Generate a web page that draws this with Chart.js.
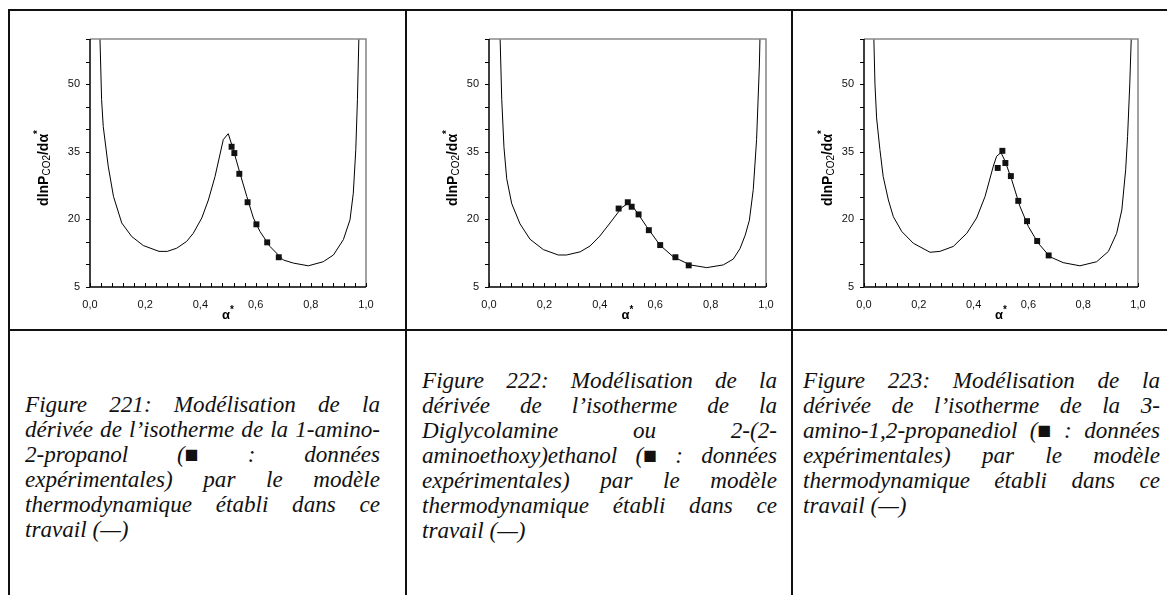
<!DOCTYPE html>
<html>
<head>
<meta charset="utf-8">
<script src="https://cdn.jsdelivr.net/npm/chart.js@4.4.1/dist/chart.umd.min.js"></script>
<style>
html,body{margin:0;padding:0;background:#fff;}
body{width:1167px;height:595px;overflow:hidden;position:relative;}
.ln{position:absolute;background:#111;}
canvas{position:absolute;}
.cap{position:absolute;font-family:"Liberation Serif","Times New Roman",serif;font-style:italic;font-size:24px;line-height:25px;color:#111;}
.cap div{white-space:nowrap;}
.cap span{white-space:nowrap;}
</style>
</head>
<body>
<div class="ln" style="left:8px;top:9px;width:1159px;height:2px"></div>
<div class="ln" style="left:8px;top:329px;width:1159px;height:2px"></div>
<div class="ln" style="left:8px;top:9px;width:2px;height:586px"></div>
<div class="ln" style="left:405px;top:9px;width:2px;height:586px"></div>
<div class="ln" style="left:791px;top:9px;width:2px;height:586px"></div>

<canvas id="c1" width="386" height="305" style="left:10px;top:20px"></canvas>
<canvas id="c2" width="376" height="305" style="left:410px;top:20px"></canvas>
<canvas id="c3" width="371" height="305" style="left:796px;top:20px"></canvas>

<div class="cap" id="cap1" style="left:25px;top:392px"></div>
<div class="cap" id="cap2" style="left:422px;top:368px"></div>
<div class="cap" id="cap3" style="left:803px;top:368px"></div>

<script>
// ---------- data ----------
const xTickValues = [0, 0.2, 0.4, 0.6, 0.8, 1.0];
const yTickValues = [5, 20, 35, 50];

// Figure 221 : 1-amino-2-propanol
const model1X = [0.034,0.042,0.048,0.066,0.085,0.115,0.151,0.193,0.250,0.280,0.314,0.350,0.374,0.405,0.429,0.453,0.483,0.501,0.519,0.543,0.568,0.592,0.616,0.652,0.700,0.737,0.791,0.845,0.882,0.918,0.942,0.954,0.963,0.969,0.976];
const model1Y = [65,46.6,40.6,31.8,25.1,19.2,16.2,14.2,12.9,12.9,13.6,15.1,16.9,20.3,24.3,29.5,37.7,39.0,35.5,30.3,25.1,20.3,17.3,14.0,11.0,10.3,9.7,10.6,12.1,15.5,19.9,25.8,35.5,46.6,65];
const exp1X = [0.513,0.523,0.541,0.571,0.603,0.642,0.684];
const exp1Y = [36.1,34.7,30.1,23.8,18.9,14.9,11.6];

// Figure 222 : Diglycolamine
const model2X = [0.038,0.046,0.054,0.064,0.082,0.112,0.148,0.196,0.250,0.280,0.329,0.365,0.400,0.437,0.479,0.501,0.521,0.545,0.569,0.617,0.665,0.726,0.786,0.846,0.882,0.906,0.925,0.940,0.954,0.966,0.976,0.980];
const model2Y = [65,46.6,36,29,23.5,19.0,15.6,13.3,12.1,12.1,12.8,14.1,16.3,19.2,22.6,23.5,22.7,20.6,18.4,14.3,11.7,9.9,9.3,9.9,11.2,13.5,16.5,19.8,26.6,37.7,54,65];
const exp2X = [0.468,0.501,0.515,0.540,0.577,0.618,0.673,0.721];
const exp2Y = [22.4,23.8,22.8,21.1,17.6,14.3,11.6,9.8];

// Figure 223 : 3-amino-1,2-propanediol
const model3X = [0.034,0.040,0.046,0.058,0.070,0.089,0.107,0.138,0.180,0.241,0.277,0.326,0.375,0.411,0.442,0.472,0.484,0.500,0.515,0.539,0.569,0.600,0.636,0.679,0.727,0.788,0.849,0.892,0.922,0.941,0.955,0.962,0.970,0.978];
const model3Y = [65,50,42.5,35.5,29.5,24.3,20.6,17.3,14.7,12.7,12.9,14.0,16.9,20.3,25.1,31.8,34.0,34.8,32.9,28.8,22.9,18.4,14.7,11.7,10.4,9.7,10.6,12.9,16.9,22.1,31.0,38.4,50,65];
const exp3X = [0.488,0.505,0.516,0.536,0.563,0.595,0.632,0.674];
const exp3Y = [31.4,35.2,32.5,29.6,24.1,19.6,15.2,12.0];

const caption1 = ["Figure 221: Modélisation de la","dérivée de l’isotherme de la 1-amino-","2-propanol (■ : données","expérimentales) par le modèle","thermodynamique établi dans ce","travail (—)"];
const caption2 = ["Figure 222: Modélisation de la","dérivée de l’isotherme de la","Diglycolamine ou 2-(2-","aminoethoxy)ethanol (■ : données","expérimentales) par le modèle","thermodynamique établi dans ce","travail (—)"];
const caption3 = ["Figure 223: Modélisation de la","dérivée de l’isotherme de la 3-","amino-1,2-propanediol (■ : données","expérimentales) par le modèle","thermodynamique établi dans ce","travail (—)"];

// ---------- captions: each line justified to the column width ----------
const capDefs = [
  {id: 'cap1', lines: caption1, w: 355},
  {id: 'cap2', lines: caption2, w: 355},
  {id: 'cap3', lines: caption3, w: 357}
];
let capFont = 24;
capDefs.forEach(c => {
  const el = document.getElementById(c.id);
  c.spans = c.lines.map(t => {
    const d = document.createElement('div');
    const s = document.createElement('span');
    s.textContent = t;
    d.appendChild(s); el.appendChild(d);
    return s;
  });
});
capDefs.forEach(c => {
  c.spans.slice(0, -1).forEach(s => {
    const w = s.getBoundingClientRect().width;
    if (w > c.w - 6) capFont = Math.min(capFont, 24 * (c.w - 6) / w);
  });
});
capDefs.forEach(c => {
  const el = document.getElementById(c.id);
  el.style.fontSize = capFont + 'px';
  c.spans.forEach((s, i) => {
    if (i === c.spans.length - 1) return;
    const gaps = (c.lines[i].match(/ /g) || []).length;
    const w = s.getBoundingClientRect().width;
    if (gaps > 0) s.style.wordSpacing = ((c.w - w) / gaps) + 'px';
  });
});

// ---------- chart decoration plugin ----------
const SANS = '"Liberation Sans", Arial, sans-serif';
const decor = {
  id: 'decor',
  afterDraw(chart, args, opts){
    const ctx = chart.ctx, a = chart.chartArea;
    const xs = chart.scales.x, ys = chart.scales.y;
    ctx.save();
    ctx.strokeStyle = '#8a8a8a'; ctx.lineWidth = 1.6;
    ctx.beginPath();
    ctx.moveTo(a.left, a.top); ctx.lineTo(a.right, a.top); ctx.lineTo(a.right, a.bottom);
    ctx.stroke();
    ctx.strokeStyle = '#000'; ctx.lineWidth = 1.5;
    ctx.beginPath();
    ctx.moveTo(a.left, a.top); ctx.lineTo(a.left, a.bottom); ctx.lineTo(a.right, a.bottom);
    ctx.stroke();
    ctx.lineWidth = 1;
    ctx.beginPath();
    for (let v = ys.min; v <= ys.max + 1e-9; v += 5) {
      const y = Math.round(ys.getPixelForValue(v)) + 0.5;
      ctx.moveTo(a.left - 4, y); ctx.lineTo(a.left, y);
    }
    for (let i = 0; i <= 25; i++) {
      const x = Math.round(xs.getPixelForValue(i * 0.04)) + 0.5;
      ctx.moveTo(x, a.bottom); ctx.lineTo(x, a.bottom - 4);
    }
    ctx.stroke();
    // y title
    ctx.fillStyle = '#000';
    ctx.translate(opts.yTitleX, (a.top + a.bottom) / 2 + opts.yTitleDy);
    ctx.rotate(-Math.PI / 2);
    const parts = [
      {t:'dlnP', f:'bold 14px ' + SANS, dy:0},
      {t:'CO2', f:'10px ' + SANS, dy:3},
      {t:'/dα', f:'bold 14px ' + SANS, dy:0},
      {t:'*', f:'bold 10px ' + SANS, dy:-6}
    ];
    let total = 0;
    parts.forEach(p => { ctx.font = p.f; p.w = ctx.measureText(p.t).width; total += p.w; });
    let cx = -total / 2;
    ctx.textBaseline = 'middle';
    parts.forEach(p => { ctx.font = p.f; ctx.fillText(p.t, cx, p.dy); cx += p.w; });
    ctx.restore();
    // x title
    ctx.save();
    ctx.fillStyle = '#000';
    ctx.textBaseline = 'middle';
    ctx.font = 'bold 13px ' + SANS;
    const wa = ctx.measureText('α').width;
    ctx.font = 'bold 10px ' + SANS;
    const ws = ctx.measureText('*').width;
    const x0 = (a.left + a.right) / 2 - (wa + ws) / 2;
    ctx.font = 'bold 13px ' + SANS;
    ctx.fillText('α', x0, opts.xTitleY);
    ctx.font = 'bold 10px ' + SANS;
    ctx.fillText('*', x0 + wa, opts.xTitleY - 5);
    ctx.restore();
  }
};

function pts(xs, ys){ return xs.map((x, i) => ({x: x, y: ys[i]})); }

function makeChart(id, mX, mY, eX, eY, g){
  return new Chart(document.getElementById(id), {
    type: 'scatter',
    data: {
      datasets: [
        {data: pts(mX, mY), showLine: true, borderColor: '#000', borderWidth: 1, pointRadius: 0, tension: 0, order: 2},
        {data: pts(eX, eY), pointStyle: 'rect', pointRadius: 4.2, backgroundColor: '#111', borderColor: '#111', pointBorderWidth: 0, order: 1}
      ]
    },
    options: {
      responsive: false, animation: false, devicePixelRatio: 1,
      layout: {padding: {left: 0, right: g.padR, top: g.padT, bottom: 0}},
      plugins: {legend: {display: false}, tooltip: {enabled: false}, decor: {yTitleX: g.yTitleX, yTitleDy: g.yTitleDy, xTitleY: g.xTitleY}},
      scales: {
        x: {
          type: 'linear', min: 0, max: 1,
          afterBuildTicks: s => { s.ticks = xTickValues.map(v => ({value: v})); },
          afterFit: s => { s.height = g.xH; },
          ticks: {autoSkip: false, maxRotation: 0, padding: 11, color: '#111', font: {family: SANS, size: 11},
                  callback: v => v.toFixed(1).replace('.', ',')},
          grid: {display: false, drawTicks: false}, border: {display: false}
        },
        y: {
          type: 'linear', min: 5, max: 60,
          afterBuildTicks: s => { s.ticks = yTickValues.map(v => ({value: v})); },
          afterFit: s => { s.width = g.yW; },
          ticks: {padding: 10, color: '#111', font: {family: SANS, size: 11}, callback: v => String(v)},
          grid: {display: false, drawTicks: false}, border: {display: false}
        }
      }
    },
    plugins: [decor]
  });
}

makeChart('c1', model1X, model1Y, exp1X, exp1Y, {yW: 80, padR: 30, padT: 19, xH: 38, yTitleX: 34, yTitleDy: 5, xTitleY: 295});
makeChart('c2', model2X, model2Y, exp2X, exp2Y, {yW: 79, padR: 20, padT: 19, xH: 38, yTitleX: 43, yTitleDy: 5, xTitleY: 295});
makeChart('c3', model3X, model3Y, exp3X, exp3Y, {yW: 68, padR: 29, padT: 19, xH: 38, yTitleX: 32, yTitleDy: 5, xTitleY: 295});
</script>
</body>
</html>
